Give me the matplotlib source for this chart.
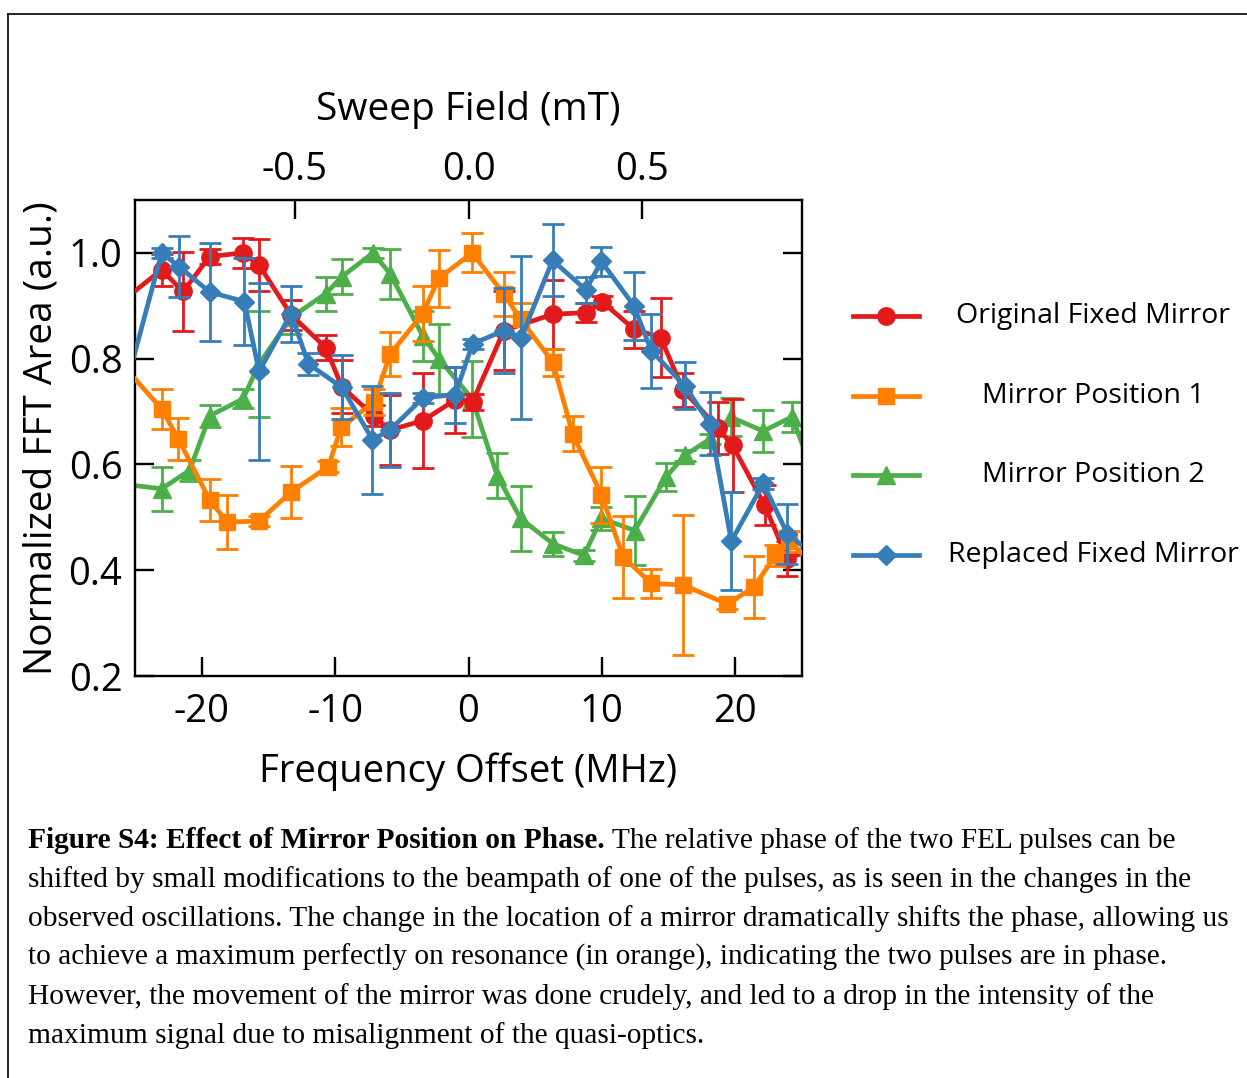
import matplotlib
matplotlib.use("Agg")
import matplotlib.pyplot as plt
from matplotlib.lines import Line2D

# ---------------- data ----------------
orig_x = [-26.0, -23.0, -21.4, -19.4, -16.9, -15.7, -13.3, -10.7, -9.5, -7.1, -5.9, -3.4, -1.0, 0.3,
          2.65, 6.3, 8.8, 10.0, 12.4, 14.4, 16.1, 18.7, 19.8, 22.2, 23.9, 26.0]
orig_y = [0.908, 0.968, 0.927, 0.993, 1.0, 0.977, 0.883, 0.821, 0.747, 0.692, 0.665, 0.683, 0.722, 0.718,
          0.853, 0.884, 0.887, 0.908, 0.856, 0.84, 0.74, 0.669, 0.636, 0.523, 0.422, 0.441]
orig_e = [0.03, 0.03, 0.074, 0.014, 0.029, 0.05, 0.028, 0.023, 0.05, 0.02, 0.066, 0.089, 0.063, 0.015,
          0.075, 0.065, 0.018, 0.01, 0.035, 0.074, 0.032, 0.05, 0.088, 0.038, 0.033, 0.03]

pos1_x = [-26.0, -23.0, -21.75, -19.4, -18.1, -15.7, -13.3, -10.5, -9.55, -7.1, -5.86, -3.43, -2.23, 0.28,
          2.65, 3.9, 6.33, 7.8, 9.96, 11.6, 13.7, 16.1, 19.4, 21.4, 23.0, 24.0, 26.0]
pos1_y = [0.79, 0.705, 0.648, 0.533, 0.491, 0.493, 0.548, 0.596, 0.670, 0.718, 0.809, 0.885, 0.952, 1.0,
          0.922, 0.875, 0.793, 0.658, 0.543, 0.425, 0.375, 0.372, 0.336, 0.368, 0.428, 0.455, 0.41]
pos1_e = [0.03, 0.038, 0.04, 0.039, 0.051, 0.01, 0.05, 0.01, 0.036, 0.025, 0.042, 0.052, 0.054, 0.037,
          0.042, 0.03, 0.026, 0.033, 0.053, 0.077, 0.027, 0.132, 0.01, 0.058, 0.02, 0.02, 0.03]

pos2_x = [-26.0, -23.0, -20.9, -19.4, -16.9, -15.7, -13.3, -10.7, -9.5, -7.15, -5.86, -3.43, -2.23, 0.28,
          2.15, 3.9, 6.33, 8.66, 9.96, 12.46, 14.8, 16.2, 18.1, 19.7, 22.1, 24.25, 26.0]
pos2_y = [0.563, 0.554, 0.589, 0.692, 0.724, 0.79, 0.878, 0.923, 0.955, 1.0, 0.96, 0.843, 0.80, 0.724,
          0.579, 0.498, 0.45, 0.428, 0.498, 0.475, 0.576, 0.617, 0.648, 0.689, 0.663, 0.69, 0.573]
pos2_e = [0.03, 0.042, 0.02, 0.021, 0.018, 0.1, 0.032, 0.032, 0.033, 0.01, 0.047, 0.047, 0.066, 0.072,
          0.042, 0.062, 0.023, 0.01, 0.022, 0.065, 0.026, 0.01, 0.01, 0.036, 0.04, 0.028, 0.03]

repl_x = [-26.0, -23.0, -21.7, -19.4, -16.8, -15.7, -13.3, -12.0, -9.5, -7.2, -5.9, -3.4, -1.0, 0.3,
          2.65, 3.96, 6.3, 8.8, 9.96, 12.4, 13.7, 16.2, 18.1, 19.7, 22.1, 23.9, 26.0]
repl_y = [0.718, 1.0, 0.974, 0.926, 0.908, 0.776, 0.885, 0.79, 0.746, 0.647, 0.665, 0.726, 0.732, 0.828,
          0.853, 0.84, 0.986, 0.93, 0.984, 0.90, 0.815, 0.749, 0.677, 0.455, 0.564, 0.469, 0.427]
repl_e = [0.03, 0.01, 0.057, 0.092, 0.082, 0.167, 0.053, 0.021, 0.06, 0.102, 0.07, 0.01, 0.053, 0.01,
          0.08, 0.154, 0.068, 0.024, 0.027, 0.064, 0.07, 0.044, 0.06, 0.093, 0.01, 0.057, 0.03]

series_labels = ["Original Fixed Mirror", "Mirror Position 1", "Mirror Position 2", "Replaced Fixed Mirror"]
series_colors = ["#e31a1c", "#ff7f00", "#4daf4a", "#377eb8"]
series_markers = ["o", "s", "^", "D"]
series_msize = [12.5, 11.5, 12.5, 10]
series_z = [3, 4, 2, 5]

bottom_ticks = [-20, -10, 0, 10, 20]
top_ticks = [-0.5, 0.0, 0.5]
y_ticks = [0.2, 0.4, 0.6, 0.8, 1.0]
MHZ_PER_MT = 26.05

caption_bold = "Figure S4: Effect of Mirror Position on Phase."
caption_lines = [
    " The relative phase of the two FEL pulses can be",
    "shifted by small modifications to the beampath of one of the pulses, as is seen in the changes in the",
    "observed oscillations. The change in the location of a mirror dramatically shifts the phase, allowing us",
    "to achieve a maximum perfectly on resonance (in orange), indicating the two pulses are in phase.",
    "However, the movement of the mirror was done crudely, and led to a drop in the intensity of the",
    "maximum signal due to misalignment of the quasi-optics.",
]

# ---------------- figure ----------------
W, H = 1247, 1078
fig = plt.figure(figsize=(W / 100, H / 100), dpi=100)
FONT = ["Open Sans", "DejaVu Sans"]
plt.rcParams["font.family"] = FONT

ax = fig.add_axes([135 / W, 1 - 676 / H, (802 - 135) / W, (676 - 200) / H])

data = [(orig_x, orig_y, orig_e), (pos1_x, pos1_y, pos1_e), (pos2_x, pos2_y, pos2_e), (repl_x, repl_y, repl_e)]
for (xs, ys, es), c, m, ms, z in zip(data, series_colors, series_markers, series_msize, series_z):
    ax.errorbar(xs, ys, yerr=es, color=c, ecolor=c, marker=m, markersize=ms, lw=3.4,
                elinewidth=2.0, capsize=8, capthick=2.0, zorder=z, clip_on=True)

ax.set_xlim(-25, 25)
ax.set_ylim(0.2, 1.1)
ax.set_xticks(bottom_ticks)
ax.set_xticklabels([str(t) for t in bottom_ticks])
ax.set_yticks(y_ticks)
ax.set_yticklabels([f"{t:.1f}" for t in y_ticks])
for s in ax.spines.values():
    s.set_linewidth(1.7)
ax.tick_params(axis="both", direction="in", length=14, width=1.7, labelsize=27.5, pad=12,
               right=True, top=False)
ax.tick_params(axis="y", pad=9)
ax.set_xlabel("Frequency Offset (MHz)", fontsize=27.5, labelpad=16)
ax.set_ylabel("Normalized FFT Area (a.u.)", fontsize=28, labelpad=6)

sec = ax.secondary_xaxis("top", functions=(lambda x: x / MHZ_PER_MT, lambda b: b * MHZ_PER_MT))
sec.set_xticks(top_ticks)
sec.set_xticklabels([f"{t:.1f}" for t in top_ticks])
sec.tick_params(direction="in", length=14, width=1.7, labelsize=27.5, pad=8)
sec.set_xlabel("Sweep Field (mT)", fontsize=28, labelpad=22)

# ---------------- legend (manual) ----------------
leg_y = [316, 396, 475, 555]
for lab, c, m, ms, yy in zip(series_labels, series_colors, series_markers, series_msize, leg_y):
    fy = 1 - yy / H
    fig.add_artist(Line2D([853 / W, 919 / W], [fy, fy], color=c, lw=3.4, marker=None,
                          transform=fig.transFigure))
    fig.add_artist(Line2D([886 / W], [fy], color=c, marker=m, markersize=ms, lw=0,
                          transform=fig.transFigure))
    fig.text(1093 / W, fy, lab, ha="center", va="center", fontsize=20.5)

# ---------------- frame ----------------
fig.add_artist(Line2D([8 / W, 1.0], [1 - 14 / H, 1 - 14 / H], color="black", lw=1.2, transform=fig.transFigure))
fig.add_artist(Line2D([8 / W, 8 / W], [1 - 14 / H, 0.0], color="black", lw=1.2, transform=fig.transFigure))

# ---------------- caption ----------------
SERIF = ["Liberation Serif", "DejaVu Serif"]
cap_size = 21.2
base0 = 848
step = 39
t_bold = fig.text(28 / W, 1 - base0 / H, caption_bold, ha="left", va="baseline",
                  fontsize=cap_size, fontweight="bold", family=SERIF)
renderer = fig.canvas.get_renderer()
bb = t_bold.get_window_extent(renderer)
fig.text(bb.x1 / W, 1 - base0 / H, caption_lines[0], ha="left", va="baseline",
         fontsize=cap_size, family=SERIF)
for i, line in enumerate(caption_lines[1:], start=1):
    fig.text(28 / W, 1 - (base0 + i * step) / H, line, ha="left", va="baseline",
             fontsize=cap_size, family=SERIF)

fig.savefig("out.png", dpi=100)
